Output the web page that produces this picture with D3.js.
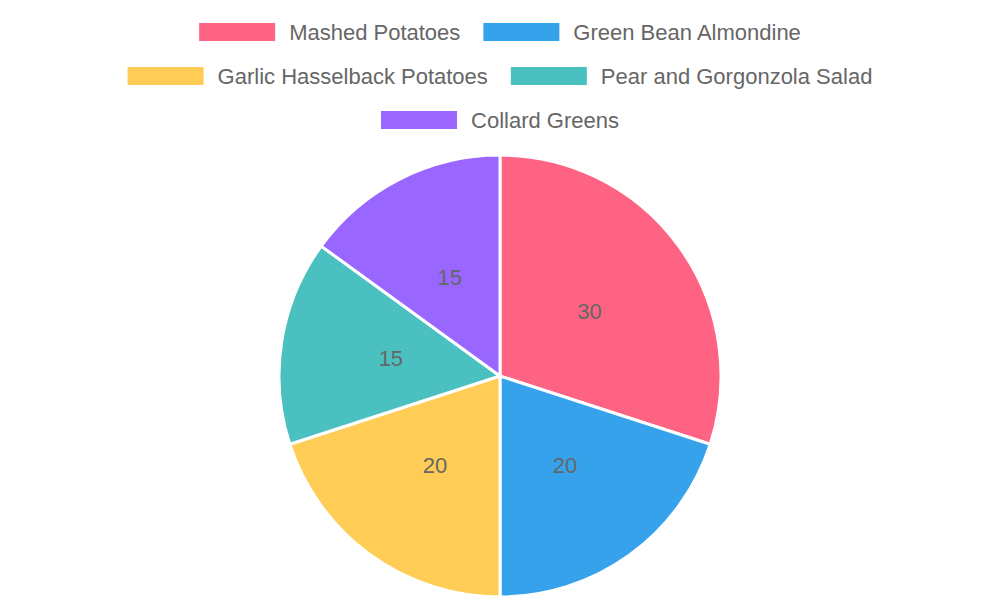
<!DOCTYPE html>
<html>
<head>
<meta charset="utf-8">
<script src="https://cdn.jsdelivr.net/npm/d3@7"></script>
<style>
  body { margin: 0; background: #fff; }
  text { font-family: "Liberation Sans", Arial, sans-serif; }
</style>
</head>
<body>
<svg id="chart" width="1000" height="600"></svg>
<script>
const labels = ["Mashed Potatoes", "Green Bean Almondine", "Garlic Hasselback Potatoes", "Pear and Gorgonzola Salad", "Collard Greens"];
const values = [30, 20, 20, 15, 15];
const colors = ["#ff6384", "#36a2eb", "#ffcd56", "#4bc0c0", "#9966ff"];

const svg = d3.select("#chart");
const width = 1000;

// legend rows, centred like Chart.js
const rows = [[0, 1], [2, 3], [4]];
const rowY = [32, 76, 120];
const boxW = 76, boxH = 18, pad = 14, gap = 23;

rows.forEach((row, ri) => {
    const g = svg.append("g");
    const items = row.map(i => {
        const t = g.append("text").attr("font-size", 22).attr("fill", "#666")
            .attr("dominant-baseline", "central").text(labels[i]);
        return { i, t, w: t.node().getComputedTextLength() };
    });
    const total = d3.sum(items, d => boxW + pad + d.w) + gap * (items.length - 1);
    let x = (width - total) / 2;
    items.forEach(d => {
        g.append("rect").attr("x", x).attr("y", rowY[ri] - boxH / 2)
            .attr("width", boxW).attr("height", boxH).attr("fill", colors[d.i]);
        d.t.attr("x", x + boxW + pad).attr("y", rowY[ri]);
        x += boxW + pad + d.w + gap;
    });
});

// pie
const cx = 500, cy = 376, r = 221;
const pie = d3.pie().sort(null).value(d => d);
const arc = d3.arc().innerRadius(0).outerRadius(r);
const labelArc = d3.arc().innerRadius(r / 2).outerRadius(r / 2);

const pg = svg.append("g").attr("transform", `translate(${cx},${cy})`);
const arcs = pie(values);

pg.selectAll("path").data(arcs).join("path")
    .attr("d", arc)
    .attr("fill", (d, i) => colors[i])
    .attr("stroke", "#fff")
    .attr("stroke-width", 3);

pg.selectAll("text.val").data(arcs).join("text")
    .attr("class", "val")
    .attr("transform", d => `translate(${labelArc.centroid(d)})`)
    .attr("text-anchor", "middle")
    .attr("dominant-baseline", "central")
    .attr("font-size", 22)
    .attr("fill", "#666")
    .text(d => d.data);
</script>
</body>
</html>
